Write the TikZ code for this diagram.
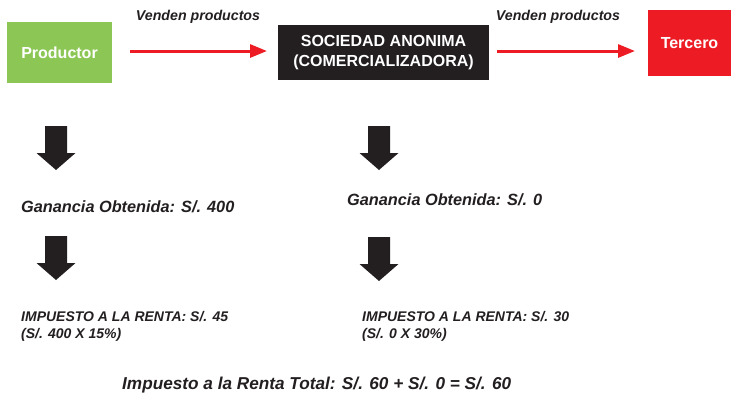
\documentclass[tikz,border=0pt]{standalone}
\usepackage{fontspec}
\setmainfont{Liberation Sans}
\usetikzlibrary{arrows.meta}
\definecolor{grn}{HTML}{8CC756}
\definecolor{rd}{HTML}{ED1C24}
\definecolor{blk}{HTML}{231F20}
\begin{document}
\begin{tikzpicture}[x=1pt,y=-1pt,
  box/.style={inner sep=0pt, text=white, font=\fontsize{16}{20}\selectfont\bfseries, align=center},
  lbl/.style={inner sep=0pt, text=blk, align=left},
  flow/.style={draw=rd, line width=3pt, -{Triangle[length=17pt,width=13pt]}},
  darrow/.pic={\fill[blk] (-11,0) -- (11,0) -- (11,27) -- (19.5,27) -- (0,44) -- (-19.5,27) -- (-11,27) -- cycle;}
]
\useasboundingbox (0,0) rectangle (731,392);
% boxes
\node[box, fill=grn, minimum width=105pt, minimum height=61pt] (prod) at (59.5,52.5) {Productor};
\node[box, fill=blk, minimum width=211pt, minimum height=55pt] (soc) at (383.5,52.5) {SOCIEDAD ANONIMA\\(COMERCIALIZADORA)};
\node[box, fill=rd, minimum width=83pt, minimum height=66pt] (ter) at (689.5,43) {Tercero};
% flow arrows
\coordinate (a1s) at (130,51);
\coordinate (a1e) at (267,51);
\coordinate (a2s) at (497,51);
\coordinate (a2e) at (635,51);
\draw[flow] (a1s) -- (a1e);
\draw[flow] (a2s) -- (a2e);
\node[lbl, font=\fontsize{14.2}{17}\selectfont\bfseries\itshape, anchor=base] (v1) at (198,20) {Venden productos};
\node[lbl, font=\fontsize{14.2}{17}\selectfont\bfseries\itshape, anchor=base] (v2) at (558,20) {Venden productos};
% down arrows
\pic at (56,126) {darrow};
\pic at (379,126) {darrow};
\pic at (56,236) {darrow};
\pic at (379,237) {darrow};
% texts
\node[lbl, font=\fontsize{16.3}{19}\selectfont\bfseries\itshape, anchor=base west] (g1) at (21,212) {Ganancia Obtenida: S/. 400};
\node[lbl, font=\fontsize{16.3}{19}\selectfont\bfseries\itshape, anchor=base west] (g2) at (347,205) {Ganancia Obtenida: S/. 0};
\node[lbl, font=\fontsize{14}{17}\selectfont\bfseries\itshape, anchor=north west] (i1) at (21,311) {IMPUESTO A LA RENTA: S/. 45\\(S/. 400 X 15\%)};
\node[lbl, font=\fontsize{14}{17}\selectfont\bfseries\itshape, anchor=north west] (i2) at (362,311) {IMPUESTO A LA RENTA: S/. 30\\(S/. 0 X 30\%)};
\node[lbl, font=\fontsize{17.2}{20}\selectfont\bfseries\itshape, anchor=base west] (tot) at (122,389) {Impuesto a la Renta Total: S/. 60 + S/. 0 = S/. 60};
\end{tikzpicture}
\end{document}
